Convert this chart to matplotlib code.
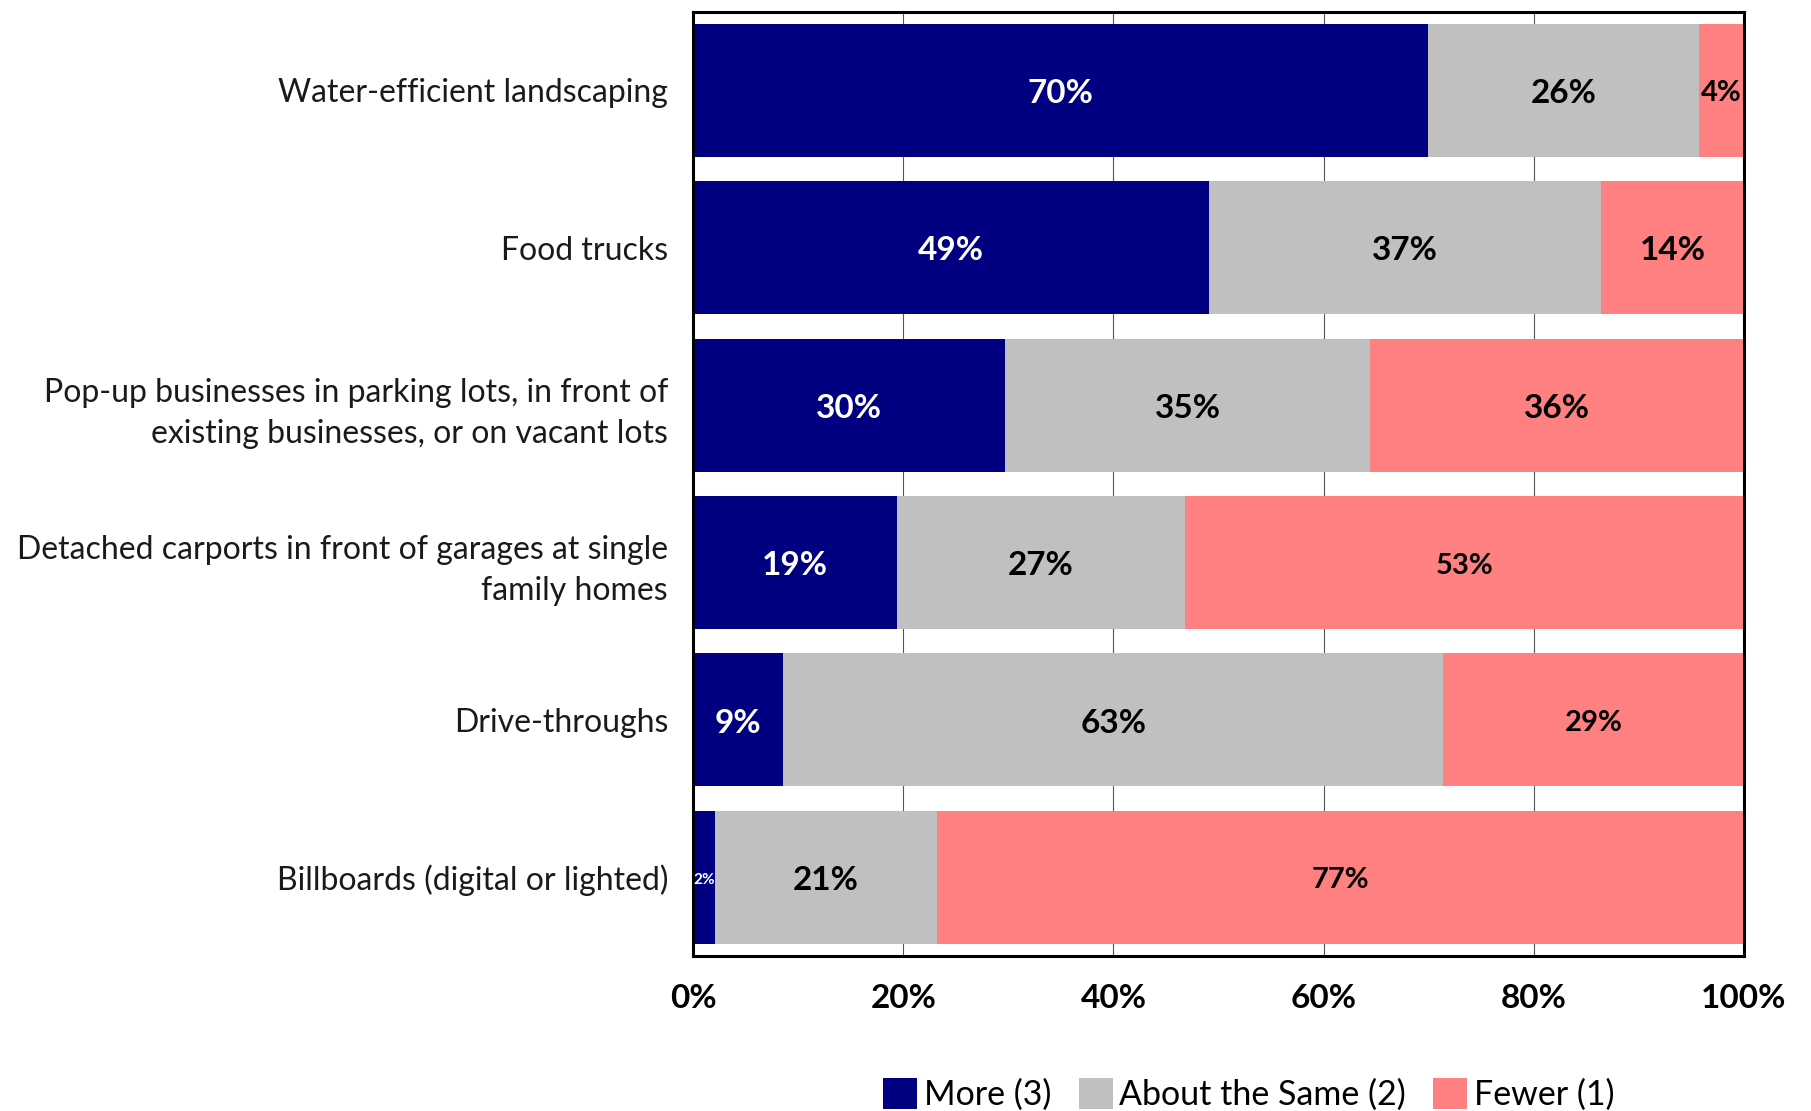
import matplotlib.pyplot as plt
import numpy as np

plt.rcParams["font.family"] = ["Lato", "DejaVu Sans"]

categories = [
    "Water-efficient landscaping",
    "Food trucks",
    "Pop-up businesses in parking lots, in front of\nexisting businesses, or on vacant lots",
    "Detached carports in front of garages at single\nfamily homes",
    "Drive-throughs",
    "Billboards (digital or lighted)",
]
more = [69.9, 49.1, 29.7, 19.4, 8.6, 2.1]
same = [25.8, 37.3, 34.7, 27.4, 62.8, 21.1]
fewer = [4.3, 13.6, 35.6, 53.2, 28.6, 76.8]

series_names = ["More (3)", "About the Same (2)", "Fewer (1)"]
colors = ["#000080", "#C0C0C0", "#FF8080"]
text_colors = ["white", "black", "black"]
# label font size per series, per bar (small segments get smaller text)
label_sizes = [
    [24, 24, 24, 24, 24, 11],
    [24, 24, 24, 24, 24, 24],
    [21, 24, 24, 21, 21, 21],
]

fig = plt.figure(figsize=(18.11, 11.11), dpi=100)
ax = fig.add_axes([0.3827, 0.1395, 0.5803, 0.8501])

y = np.arange(len(categories))
left = np.zeros(len(categories))
for i, vals in enumerate([more, same, fewer]):
    vals = np.array(vals)
    ax.barh(y, vals, left=left, height=0.845, color=colors[i],
            label=series_names[i], zorder=2)
    for j, v in enumerate(vals):
        ax.text(left[j] + v / 2, y[j] + 0.02, f"{v:.0f}%", ha="center",
                va="center", color=text_colors[i],
                fontsize=label_sizes[i][j], fontweight="bold", zorder=3)
    left += vals

ax.set_xlim(0, 100)
ax.set_ylim(len(categories) - 0.5, -0.5)
ax.set_yticks(y)
ax.set_yticklabels(categories, fontsize=23, color="#1a1a1a", linespacing=1.45)
ax.set_xticks(np.arange(0, 101, 20))
ax.set_xticklabels([f"{t}%" for t in range(0, 101, 20)], fontsize=24,
                   fontweight="bold")
ax.tick_params(axis="both", length=0)
ax.tick_params(axis="x", pad=20)
ax.tick_params(axis="y", pad=18)
ax.xaxis.grid(True, color="#555555", linewidth=0.8, zorder=0)
ax.set_axisbelow(True)
for s in ax.spines.values():
    s.set_linewidth(2.2)
    s.set_color("black")

ax.legend(loc="center", bbox_to_anchor=(0.529, -0.147), ncol=3, frameon=False,
          fontsize=24.5, handlelength=1.0, handleheight=1.0, handletextpad=0.2,
          columnspacing=0.8)

fig.savefig("out.png", dpi=100)
